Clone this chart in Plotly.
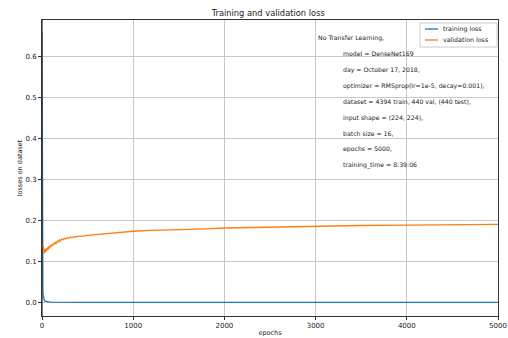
import plotly.graph_objects as go

# Training loss per epoch (sampled epochs)
train_epochs = [0, 1, 2, 3, 4, 5, 6, 8, 10, 13, 16, 20, 25, 30, 40, 50, 70, 100,
                150, 200, 300, 500, 1000, 2000, 3000, 4000, 5000]
train_loss = [0.66, 0.42, 0.28, 0.19, 0.13, 0.09, 0.065, 0.04, 0.027, 0.018, 0.012,
              0.008, 0.006, 0.004, 0.003, 0.002, 0.0015, 0.001, 0.0008, 0.0006,
              0.0005, 0.0004, 0.0003, 0.0002, 0.0002, 0.0001, 0.0001]

# Validation loss per epoch (sampled epochs)
val_epochs = [0, 3, 6, 9, 12, 15, 18, 21, 24, 27,
              30, 34, 38, 42, 46, 50, 55, 60, 65, 70,
              76, 82, 88, 94, 100, 108, 116, 124, 132, 140,
              150, 160, 170, 180, 190, 200, 215, 230, 245, 260,
              275, 290, 310, 330, 350, 375, 400, 450, 500, 600,
              700, 800, 900, 1000, 1200, 1400, 1600, 1800, 2000, 2250,
              2500, 2750, 3000, 3500, 4000, 4500, 5000]
val_loss = [0.147, 0.135, 0.144, 0.130, 0.139, 0.126, 0.134, 0.123, 0.131, 0.122,
            0.130, 0.123, 0.131, 0.124, 0.132, 0.126, 0.133, 0.128, 0.135, 0.130,
            0.137, 0.132, 0.139, 0.135, 0.141, 0.137, 0.143, 0.140, 0.146, 0.142,
            0.148, 0.145, 0.150, 0.148, 0.153, 0.150, 0.155, 0.153, 0.157, 0.155,
            0.158, 0.157, 0.160, 0.158, 0.161, 0.160, 0.162, 0.162, 0.164, 0.166,
            0.168, 0.170, 0.172, 0.174, 0.176, 0.177, 0.179, 0.180, 0.182, 0.183,
            0.184, 0.186, 0.187, 0.188, 0.189, 0.190, 0.191]

x_ticks = [0, 1000, 2000, 3000, 4000, 5000]
y_ticks = [0.0, 0.1, 0.2, 0.3, 0.4, 0.5, 0.6]

series_names = ["training loss", "validation loss"]
series_colors = ["#1f77b4", "#ff7f0e"]

note_header = "No Transfer Learning,"
note_lines = [
    "model = DenseNet169",
    "day = October 17, 2018,",
    "optimizer = RMSprop(lr=1e-5, decay=0.001),",
    "dataset = 4394 train, 440 val, (440 test),",
    "input shape = (224, 224),",
    "batch size = 16,",
    "epochs = 5000,",
    "training_time = 8:39:06",
]

FONT = "DejaVu Sans"
TEXT = "#1a1a1a"
SPINE = "#333333"

# Plot-area geometry in pixels (used to place overlay text in paper units)
W, H = 508, 338
ML, MR, MT, MB = 42, 10, 20, 22
PW, PH = W - ML - MR, H - MT - MB


def px_x(x):
    return (x - ML) / PW


def px_y(y):
    return (H - MB - y) / PH


fig = go.Figure()
fig.add_trace(go.Scatter(x=train_epochs, y=train_loss, mode="lines",
                         name=series_names[0], showlegend=False,
                         line=dict(color=series_colors[0], width=1.3)))
fig.add_trace(go.Scatter(x=val_epochs, y=val_loss, mode="lines",
                         name=series_names[1], showlegend=False,
                         line=dict(color=series_colors[1], width=1.3)))

# Left spine drawn over the traces, centred on the plot edge
fig.add_shape(type="line", xref="paper", yref="paper", x0=0, x1=0, y0=0, y1=1,
              line=dict(color=SPINE, width=1.3), layer="above")

# Run description block
row_step = 15.9
fig.add_annotation(text=note_header, xref="paper", yref="paper",
                   x=px_x(316), y=px_y(38),
                   xanchor="left", yanchor="middle", showarrow=False,
                   font=dict(family=FONT, size=6.2, color=TEXT))
for i, line in enumerate(note_lines):
    fig.add_annotation(text=line, xref="paper", yref="paper",
                       x=px_x(341), y=px_y(38 + row_step * (i + 1)),
                       xanchor="left", yanchor="middle", showarrow=False,
                       font=dict(family=FONT, size=6.2, color=TEXT))

# Compact legend box in the upper-right corner
fig.add_shape(type="rect", xref="paper", yref="paper",
              x0=px_x(420), x1=px_x(497), y0=px_y(47), y1=px_y(23),
              line=dict(color="#cccccc", width=1),
              fillcolor="rgba(255,255,255,0.85)", layer="above")
for i, (name, color) in enumerate(zip(series_names, series_colors)):
    yrow = 29 + 11 * i
    fig.add_shape(type="line", xref="paper", yref="paper",
                  x0=px_x(425), x1=px_x(438), y0=px_y(yrow), y1=px_y(yrow),
                  line=dict(color=color, width=1.3), layer="above")
    fig.add_annotation(text=name, xref="paper", yref="paper",
                       x=px_x(441), y=px_y(yrow),
                       xanchor="left", yanchor="middle", showarrow=False,
                       font=dict(family=FONT, size=6.3, color=TEXT))

axis_common = dict(showline=True, mirror=True, linecolor=SPINE, linewidth=1,
                   showgrid=True, gridcolor="#c8c8c8", gridwidth=0.8,
                   ticks="outside", ticklen=3, tickcolor=SPINE,
                   tickfont=dict(family=FONT, size=7, color=TEXT),
                   zeroline=False, automargin=False, layer="above traces")

fig.update_layout(
    width=W, height=H,
    margin=dict(l=ML, r=MR, t=MT, b=MB, autoexpand=False),
    paper_bgcolor="white", plot_bgcolor="white",
    title=dict(text="Training and validation loss", x=0.528, xanchor="center",
               y=1 - 13 / H, yanchor="middle",
               font=dict(family=FONT, size=8.3, color=TEXT)),
    xaxis=dict(range=[0, 5000], tickvals=x_ticks,
               title=dict(text="epochs", standoff=1,
                          font=dict(family=FONT, size=6.5, color=TEXT)),
               **axis_common),
    yaxis=dict(range=[-0.033, 0.69], tickvals=y_ticks, tickformat=".1f",
               title=dict(text="losses on dataset", standoff=2,
                          font=dict(family=FONT, size=6.5, color=TEXT)),
               **axis_common),
    showlegend=False,
)

fig.write_html("out.html")
